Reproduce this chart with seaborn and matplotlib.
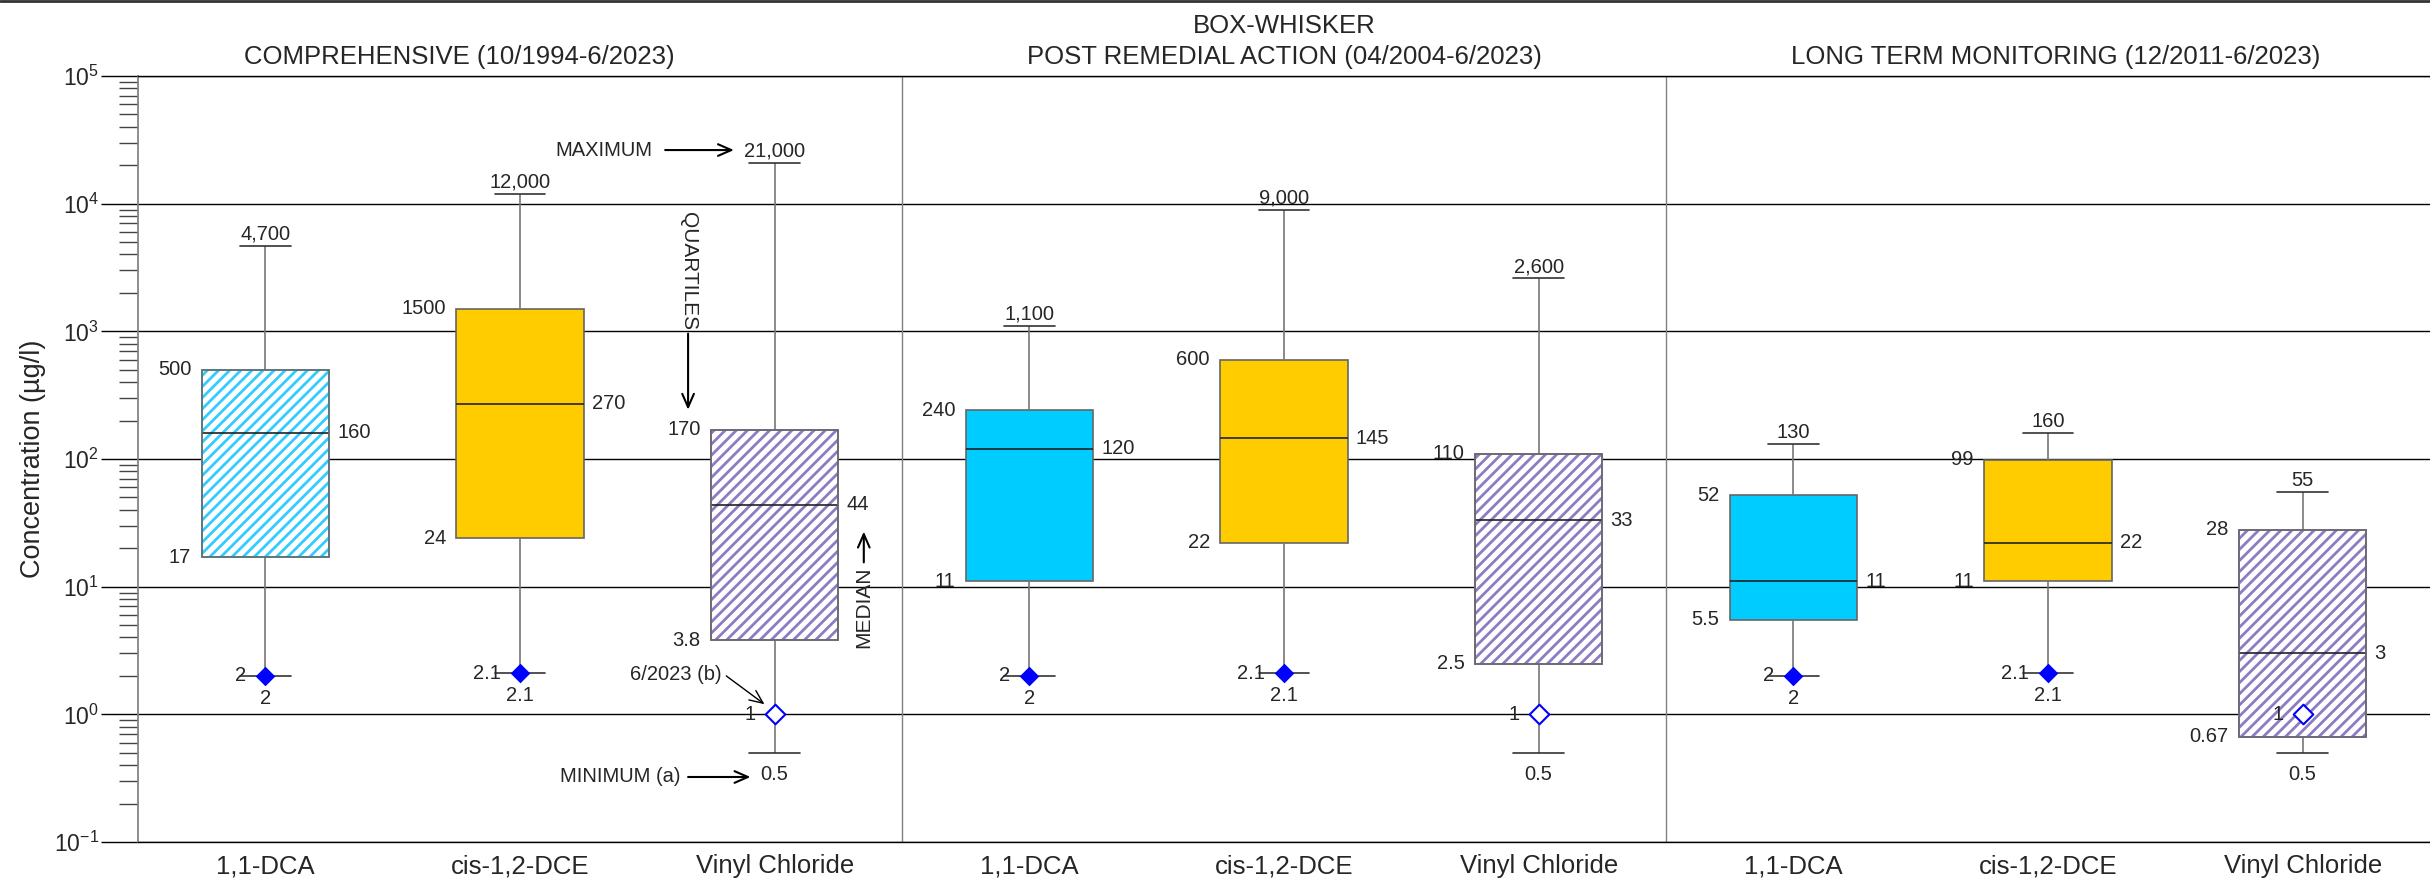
import numpy as np
import pandas as pd
import seaborn as sns
import matplotlib.pyplot as plt
import matplotlib.transforms as mtransforms
from matplotlib.patches import PathPatch
from matplotlib.lines import Line2D
from matplotlib.ticker import LogLocator, FixedLocator, FuncFormatter, NullFormatter

# --- data --------------------------------------------------------------
chart_title = "BOX-WHISKER"
panels = ["COMPREHENSIVE (10/1994-6/2023)",
          "POST REMEDIAL ACTION (04/2004-6/2023)",
          "LONG TERM MONITORING (12/2011-6/2023)"]
compounds = ["1,1-DCA", "cis-1,2-DCE", "Vinyl Chloride"]

maximum = [4700, 12000, 21000, 1100, 9000, 2600, 130, 160, 55]
q3      = [500, 1500, 170, 240, 600, 110, 52, 99, 28]
median  = [160, 270, 44, 120, 145, 33, 11, 22, 3]
q1      = [17, 24, 3.8, 11, 22, 2.5, 5.5, 11, 0.67]
minimum = [2, 2.1, 0.5, 2, 2.1, 0.5, 2, 2.1, 0.5]
latest  = [2, 2.1, 1, 2, 2.1, 1, 2, 2.1, 1]   # 6/2023 result
decades = [1e-1, 1e0, 1e1, 1e2, 1e3, 1e4, 1e5]

# --- styles -------------------------------------------------------------
box_fill  = ["white", "#FFCC00", "white", "#00CCFF", "#FFCC00", "white",
             "#00CCFF", "#FFCC00", "white"]
box_hatch = ["#33CCFF", None, "#8E7CC3", None, None, "#8E7CC3",
             None, None, "#8E7CC3"]
BOX_W = 0.5
FONT = "Liberation Sans"

sns.set_theme(style="white")
plt.rcParams["font.family"] = [FONT, "DejaVu Sans"]
plt.rcParams["mathtext.fontset"] = "custom"
plt.rcParams["mathtext.rm"] = FONT
plt.rcParams["hatch.linewidth"] = 2.0

keys = [f"{p}|{c}" for p in range(len(panels)) for c in compounds]

rows = []
for i, k in enumerate(keys):
    for v in (minimum[i], q1[i], median[i], q3[i], maximum[i]):
        rows.append((k, v))
box_df = pd.DataFrame(rows, columns=["well", "conc"])

latest_df = pd.DataFrame({"well": keys, "conc": latest,
                          "vc": [k.endswith("Vinyl Chloride") for k in keys]})

fig = plt.figure(figsize=(24.3, 8.84), dpi=100)
ax = fig.add_axes([138 / 2430, 1 - 842 / 884, 1 - 138 / 2430, (842 - 76) / 884])

sns.boxplot(data=box_df, x="well", y="conc", hue="well", order=keys, hue_order=keys,
            palette=dict(zip(keys, box_fill)), saturation=1, width=BOX_W,
            whis=(0, 100), linecolor="#666666", linewidth=1.2, log_scale=True,
            legend=False, showfliers=False, capwidths=0.2,
            medianprops=dict(color="#222222"), capprops=dict(color="#333333"),
            whiskerprops=dict(color="#777777"), ax=ax)

# hatched boxes: hatch takes the edge colour, so redraw the outline on top
for p in list(ax.patches):
    cx = int(round(p.get_path().vertices[:, 0].mean()))
    if 0 <= cx < len(keys) and box_hatch[cx]:
        p.set_facecolor("white")
        p.set_edgecolor(box_hatch[cx])
        p.set_hatch("///")
        ax.add_patch(PathPatch(p.get_path(), fill=False, edgecolor="#666666",
                               lw=1.2, transform=p.get_transform(),
                               zorder=p.get_zorder() + 0.1))

sns.stripplot(data=latest_df[~latest_df["vc"]], x="well", y="conc", order=keys,
              jitter=False, marker="D", size=10, color="#0000FF", linewidth=0,
              zorder=6, ax=ax)
sns.stripplot(data=latest_df[latest_df["vc"]], x="well", y="conc", order=keys,
              jitter=False, marker="D", size=10, color="white", edgecolor="#0000FF",
              linewidth=1.5, zorder=6, ax=ax)

# value labels
lab = dict(textcoords="offset points", fontsize=14.5, va="center")
for i in range(len(keys)):
    ax.annotate(f"{maximum[i]:,.0f}", (i, maximum[i]), xytext=(0, 8.5), ha="center", **lab)
    ax.annotate(f"{q3[i]:g}", (i - BOX_W / 2, q3[i]), xytext=(-7.5, 0), ha="right", **lab)
    ax.annotate(f"{median[i]:g}", (i + BOX_W / 2, median[i]), xytext=(6, 0), ha="left", **lab)
    ax.annotate(f"{q1[i]:g}", (i - BOX_W / 2, q1[i]), xytext=(-7.5, 0), ha="right", **lab)
    ax.annotate(f"{minimum[i]:g}", (i, minimum[i]), xytext=(0, -16), ha="center", **lab)
    ax.annotate(f"{latest[i]:g}", (i, latest[i]), xytext=(-14, 0), ha="right", **lab)

# explanatory call-outs
arrow = dict(arrowstyle="->,head_length=0.8,head_width=0.35", lw=1.5, color="black",
             shrinkA=0, shrinkB=0)
ax.text(1.52, 2.63e4, "MAXIMUM", ha="right", va="center", fontsize=14.5)
ax.annotate("", xy=(1.84, 2.63e4), xytext=(1.57, 2.63e4), arrowprops=arrow)
ax.text(1.66, 2950, "QUARTILES", rotation=270, ha="center", va="center", fontsize=15)
ax.annotate("", xy=(1.66, 243), xytext=(1.66, 960), arrowprops=arrow)
ax.text(2.35, 6.95, "MEDIAN", rotation=90, ha="center", va="center", fontsize=15)
ax.annotate("", xy=(2.35, 27), xytext=(2.35, 15.5), arrowprops=arrow)
ax.text(1.79, 2.04, "6/2023 (b)", ha="right", va="center", fontsize=14.5)
ax.annotate("", xy=(1.96, 1.2), xytext=(1.81, 2.0), arrowprops=dict(arrow, lw=1.0))
ax.text(1.63, 0.323, "MINIMUM (a)", ha="right", va="center", fontsize=14.5)
ax.annotate("", xy=(1.905, 0.323), xytext=(1.66, 0.323), arrowprops=arrow)

# axes styling
ax.set_xlim(-0.5, len(keys) - 0.5)
ax.set_ylim(decades[0], decades[-1])
ax.set_axisbelow(True)
ax.yaxis.grid(True, which="major", color="black", lw=1)
ax.xaxis.grid(False)
for x in (2.5, 5.5):
    ax.axvline(x, color="#808080", lw=1, zorder=1)
ax.yaxis.set_major_locator(FixedLocator(decades))
ax.yaxis.set_major_formatter(FuncFormatter(
    lambda v, _: f"$\\mathdefault{{10^{{{int(round(np.log10(v)))}}}}}$"))
ax.yaxis.set_minor_locator(LogLocator(base=10, subs=np.arange(2, 10), numticks=20))
ax.yaxis.set_minor_formatter(NullFormatter())
ax.tick_params(axis="y", which="major", length=27, width=1, color="black",
               labelsize=16.5, pad=1, left=True)
ax.tick_params(axis="y", which="minor", length=14, width=1, color="#444444", left=True)
ax.set_xticks(range(len(keys)))
ax.set_xticklabels(compounds * len(panels))
ax.tick_params(axis="x", length=0, labelsize=18.5, pad=9)
ax.set_xlabel("")
ax.set_ylabel("")
for s in ("top", "bottom"):
    ax.spines[s].set_color("black")
    ax.spines[s].set_linewidth(1)
ax.spines["left"].set_color("#808080")
ax.spines["right"].set_visible(False)

trans = mtransforms.blended_transform_factory(ax.transData, ax.transAxes)
ax.text(0.76, 1.0157, panels[0], transform=trans, ha="center", va="baseline", fontsize=18.5)
ax.text(4.0, 1.0157, panels[1], transform=trans, ha="center", va="baseline", fontsize=18.5)
ax.text(4.0, 1.056, chart_title, transform=trans, ha="center", va="baseline", fontsize=18.5)
ax.text(7.03, 1.0157, panels[2], transform=trans, ha="center", va="baseline", fontsize=18.5)

fig.text(33 / 2430, 1 - 459 / 884, "Concentration (µg/l)", rotation=90, ha="center",
         va="center", fontsize=19.5)
fig.add_artist(Line2D([0, 1], [0.999, 0.999], color="#333333", lw=2,
                      transform=fig.transFigure))

fig.savefig("out.png", dpi=100)
